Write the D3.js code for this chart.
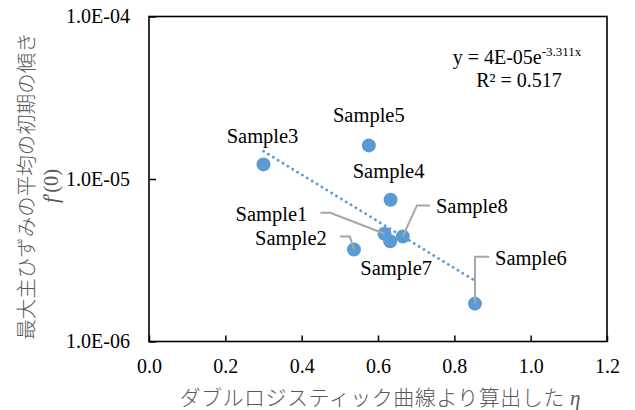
<!DOCTYPE html>
<html lang="ja">
<head>
<meta charset="UTF-8">
<title>f'(0) vs eta</title>
<script src="https://d3js.org/d3.v7.min.js"></script>
<style>
  body { margin: 0; background: #fff; }
  svg { display: block; }
</style>
</head>
<body>
<div id="chart"></div>
<script>
// sample names and values
var samples = ['Sample1', 'Sample2', 'Sample3', 'Sample4', 'Sample5', 'Sample6', 'Sample7', 'Sample8'];
var etaValues = [0.617, 0.537, 0.300, 0.633, 0.576, 0.854, 0.632, 0.665];
var slopeValues = [4.6e-6, 3.68e-6, 1.23e-5, 7.45e-6, 1.61e-5, 1.71e-6, 4.14e-6, 4.43e-6];

// tick values
var xTicks = [0, 0.2, 0.4, 0.6, 0.8, 1.0, 1.2];
var yTicks = [1e-6, 1e-5, 1e-4];

// exponential trendline shown in the chart: y = a * e^(b x)
var trendA = 4e-5, trendB = -3.311;
var trendLabel = ['y = 4E-05e', '-3.311x'];
var r2Label = 'R² = 0.517';

// label offsets from the point (px), and leader line side
var labelDx = [-113, -63, -1, -2, 0, 56, 6, 69];
var labelDy = [-20, -12, -28, -29, -30, -46, 27, -30];
var leader = ['right', 'right', null, null, null, 'left', null, 'left'];

var W = 635, H = 410;
var margin = { top: 16.5, right: 28, bottom: 68.5, left: 149 };
var width = W - margin.left - margin.right,
    height = H - margin.top - margin.bottom;

var serif = '"Liberation Serif", "Times New Roman", serif';
var jp = '"Noto Sans CJK JP", sans-serif';
var blue = '#5B9BD5';

var svg = d3.select('#chart').append('svg')
  .attr('width', W)
  .attr('height', H);

var g = svg.append('g')
  .attr('transform', 'translate(' + margin.left + ',' + margin.top + ')');

var x = d3.scaleLinear().domain([0, 1.2]).range([0, width]);
var y = d3.scaleLog().domain([1e-6, 1e-4]).range([height, 0]);

// axes (ticks point inward)
var xAxis = d3.axisBottom(x)
  .tickValues(xTicks)
  .tickFormat(d3.format('.1f'))
  .tickSizeInner(-6)
  .tickSizeOuter(0)
  .tickPadding(17);

var yAxis = d3.axisLeft(y)
  .tickValues(yTicks)
  .tickFormat(function(d) {
    var e = Math.round(Math.log10(d));
    var s = String(Math.abs(e));
    if (s.length < 2) s = '0' + s;
    return '1.0E' + (e < 0 ? '-' : '+') + s;
  })
  .tickSizeInner(-7)
  .tickSizeOuter(0)
  .tickPadding(19);

var gx = g.append('g')
  .attr('transform', 'translate(0,' + height + ')')
  .call(xAxis);
var gy = g.append('g').call(yAxis);

[gx, gy].forEach(function(ax) {
  ax.attr('font-family', null);
  ax.select('.domain').remove();
  ax.selectAll('line').attr('stroke', '#000').attr('stroke-width', 1.5);
  ax.selectAll('text')
    .attr('fill', '#000')
    .style('font-family', serif)
    .style('font-size', '20px');
});

// frame
g.append('rect')
  .attr('x', 0).attr('y', 0)
  .attr('width', width).attr('height', height)
  .attr('fill', 'none')
  .attr('stroke', '#000')
  .attr('stroke-width', 1.6);

// points
g.selectAll('circle.pt').data(samples)
  .enter().append('circle')
  .attr('class', 'pt')
  .attr('cx', function(d, i) { return x(etaValues[i]); })
  .attr('cy', function(d, i) { return y(slopeValues[i]); })
  .attr('r', 7)
  .attr('fill', blue);

// trendline across the data range
var xMin = d3.min(etaValues), xMax = d3.max(etaValues);
g.append('line')
  .attr('x1', x(xMin)).attr('y1', y(trendA * Math.exp(trendB * xMin)))
  .attr('x2', x(xMax)).attr('y2', y(trendA * Math.exp(trendB * xMax)))
  .attr('stroke', blue)
  .attr('stroke-width', 2.8)
  .attr('stroke-linecap', 'round')
  .attr('stroke-dasharray', '0.1,5.6');

// data labels
var labels = g.selectAll('text.lbl').data(samples)
  .enter().append('text')
  .attr('class', 'lbl')
  .attr('x', function(d, i) { return x(etaValues[i]) + labelDx[i]; })
  .attr('y', function(d, i) { return y(slopeValues[i]) + labelDy[i]; })
  .attr('text-anchor', 'middle')
  .attr('dominant-baseline', 'central')
  .attr('fill', '#000')
  .style('font-family', serif)
  .style('font-size', '20.5px')
  .text(function(d) { return d; });

// leader lines
labels.each(function(d, i) {
  if (!leader[i]) return;
  var bb = this.getBBox();
  var px = x(etaValues[i]), py = y(slopeValues[i]);
  var ty = y(slopeValues[i]) + labelDy[i] - 1;
  var sx, kx;
  if (leader[i] === 'right') { sx = bb.x + bb.width + 13; kx = sx + 10; }
  else { sx = bb.x - 6; kx = i === 5 ? px : sx - 13; }
  g.append('polyline')
    .attr('points', [[sx, ty], [kx, ty], [px, py]].join(' '))
    .attr('fill', 'none')
    .attr('stroke', '#A6A6A6')
    .attr('stroke-width', 2);
});

// trendline equation
var eq = g.append('text')
  .attr('x', 517 - margin.left)
  .attr('y', 64 - margin.top)
  .attr('text-anchor', 'middle')
  .attr('fill', '#000')
  .style('font-family', serif)
  .style('font-size', '20px');
eq.append('tspan').text(trendLabel[0]);
eq.append('tspan')
  .attr('dy', -8)
  .style('font-size', '13px')
  .text(trendLabel[1]);

g.append('text')
  .attr('x', 519 - margin.left)
  .attr('y', 87 - margin.top)
  .attr('text-anchor', 'middle')
  .attr('fill', '#000')
  .style('font-family', serif)
  .style('font-size', '20px')
  .text(r2Label);

// axis titles
var xt = svg.append('text')
  .attr('x', margin.left + width / 2 + 2)
  .attr('y', 405)
  .attr('text-anchor', 'middle')
  .attr('fill', '#595959')
  .style('font-size', '21px');
xt.append('tspan')
  .style('font-family', jp)
  .style('font-weight', 300)
  .style('letter-spacing', '0.5px')
  .text('ダブルロジスティック曲線より算出した\u00a0');
xt.append('tspan')
  .style('font-family', serif)
  .style('font-style', 'italic')
  .text('η');

var yt = svg.append('g')
  .attr('transform', 'translate(0,186) rotate(-90)');
yt.append('text')
  .attr('x', 0).attr('y', 25)
  .attr('text-anchor', 'middle')
  .attr('dominant-baseline', 'central')
  .attr('fill', '#595959')
  .style('font-family', jp)
  .style('font-weight', 300)
  .style('font-size', '20.5px')
  .text('最大主ひずみの平均の初期の傾き');
var yt2 = yt.append('text')
  .attr('x', 0).attr('y', 51)
  .attr('text-anchor', 'middle')
  .attr('dominant-baseline', 'central')
  .attr('fill', '#595959')
  .style('font-family', serif)
  .style('font-size', '20.5px');
yt2.append('tspan').style('font-style', 'italic').text('f');
yt2.append('tspan').text('′(0)');
</script>
</body>
</html>
